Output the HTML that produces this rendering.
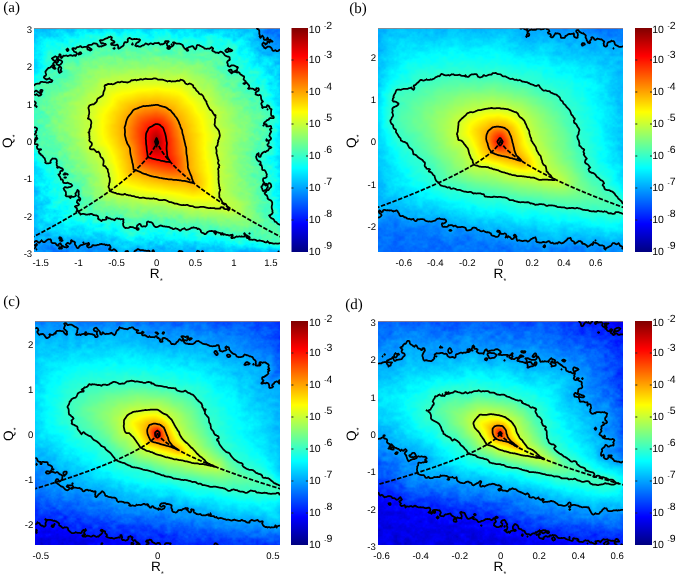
<!DOCTYPE html>
<html><head><meta charset="utf-8">
<style>
html,body{margin:0;padding:0;background:#fff;overflow:hidden;}
body{width:677px;height:574px;position:relative;overflow:hidden;font-family:"Liberation Sans",sans-serif;color:#000;}
#cv{position:absolute;left:0;top:0;}
.fb{position:absolute;overflow:hidden;}
.t{position:absolute;line-height:1;white-space:nowrap;font-family:"Liberation Sans",sans-serif;text-rendering:geometricPrecision;}
</style></head><body>
<svg class="fb" style="left:34px;top:28px" width="246" height="224" viewBox="34 28 246 224"><defs><filter id="bl0" x="-20%" y="-20%" width="140%" height="140%"><feGaussianBlur stdDeviation="5"/></filter></defs><rect x="34" y="28" width="246" height="224" fill="#0071ff"/><g filter="url(#bl0)"><rect x="14" y="8" width="286" height="264" fill="#0071ff"/><polygon points="24,21 255,21 258.6,28 260.5,35.8 266.4,39.7 270.3,45.6 276.1,47.5 290,49.5 290,254 150,254 112.1,252 108.2,246.4 96.5,245.5 88.7,246.4 80.9,244.5 73.1,245.5 65.3,244.5 57.4,241.6 49.6,239.6 41.8,243.5 34,248.4 24,250" fill="#00e6ff"/><polygon points="30,100 36,85.6 53.5,69 53.5,55.3 59.4,53.4 73,49.5 82.8,47.5 96.5,42.6 112,39.7 120,44.6 125.8,39.7 135.6,39.7 143.4,44.6 157,42.6 166.8,40.7 168.7,45.6 176.5,43.6 184.3,44.6 188.3,47.5 192.2,46.6 196.1,49.5 201.9,46.6 207.8,45.6 213.6,47.5 215.6,51.4 223.4,52.4 227.3,53.4 225.4,57.3 228.3,61.2 229.3,65.1 233.2,67.1 235.1,71 239,74.9 242.9,76.8 246.8,80.7 250.8,82.7 252.7,86.6 254.7,90.5 256.6,94.4 262.5,98.3 266.4,102.2 268.3,106.1 270.3,110 270.3,115.9 272.2,121.8 270.3,127.6 268.3,133.5 268.3,140 266.4,149.8 262.5,157.6 263.4,165.4 265.4,173.2 266.4,179.1 267.4,186.9 266.4,192.7 268.3,198.6 270.3,206.4 272.2,214.2 274.2,222 278.1,225.9 285,228 285,242 280,242.5 270.3,241.6 262.5,240.6 254.7,239.6 246.8,238.6 239,237.7 231.2,235.7 221.5,233.8 211.7,232.8 203.9,231.8 196.1,229.8 188.3,228.9 180.4,226.9 172.6,227.9 164.8,225 157,224 147.3,225 139.5,225.9 131.7,228.9 127.8,229.8 123.8,224 118,219.1 110.2,218.1 100.4,217.1 90.6,215.2 80.9,215.2 77,213.2 78.9,207.4 79.9,202.5 77,198.6 73.1,194.7 70.1,188.8 66.2,184.9 61.3,179.1 58.4,173.2 57.4,165.4 53.5,161.5 45.7,159.5 39.9,149.8 34,144.9 30,140" fill="#78ff87"/><polygon points="89.7,131.5 89.7,121.8 88.7,113.9 89.7,108.1 92.6,105.1 96.5,100.3 101.4,95.4 103.3,90.5 106.3,85.6 116,82.7 125.8,81.7 139.5,80.3 157,79.8 164.8,80.7 172.6,80.7 182.4,79.8 186.3,82.7 192.2,86.6 196.1,92.5 201.9,96.4 205.8,102.2 208.8,106.1 211.7,112 214.6,117.8 215.6,123.7 217.5,129.6 219.5,135.4 217.5,140.1 215.6,145.9 216.6,151.7 217.5,159.5 218.5,169.3 219.5,179.1 218.5,188.8 219.5,196.6 223.4,202.5 232.8,209.9 217.5,208.4 207.8,207.4 196.1,206.4 184.3,204.5 172.6,202.5 164.8,200.5 157,199.6 147.3,198.6 135.6,196.6 125.8,194.7 116,192.7 110.2,190.8 109.2,183 109.2,175.2 106.3,167.3 103.3,161.5 101.4,157.6 98.5,151.7 91.6,147.8 90.6,140" fill="#fff400"/><polygon points="124.8,127.6 127.8,117.8 133.6,110 143.4,106.1 157,104.8 164.8,107.1 170.7,111 176.5,117.8 180.4,125.7 182.4,133.5 184.3,140.1 186.3,149.8 187.3,161.5 188.3,169.3 193.7,183.1 184.3,181 176.5,180 166.8,179.1 157,177.1 151.2,176.1 143.4,173.2 133.6,169.3 131.7,159.5 129.7,147.8 125.8,140" fill="#ff6200"/><polygon points="155.9,124.3 159.8,124.8 163.2,127.7 165.5,134.4 166.6,142.4 166.6,150.3 167.2,156 171.3,163.0 161,160.5 155.3,159.4 148,157.1 146.8,150.3 146.3,144.6 145.7,139 146.3,133.3 148.5,127.7" fill="#d00000"/><polygon points="156.7,137.8 158.1,142.4 156.4,146.9 155.1,141.2" fill="#800000"/><circle cx="156.6" cy="142" r="2" fill="#800000"/></g><polygon points="156.7,137.8 158.1,142.4 156.4,146.9 155.1,141.2" fill="none" stroke="#000" stroke-width="1.6"/><polygon points="155.9,124.3 159.8,124.8 163.2,127.7 165.5,134.4 166.6,142.4 166.6,150.3 167.2,156 171.3,163.0 161,160.5 155.3,159.4 148,157.1 146.8,150.3 146.3,144.6 145.7,139 146.3,133.3 148.5,127.7" fill="none" stroke="#000" stroke-width="1.6"/><polygon points="124.8,127.6 127.8,117.8 133.6,110 143.4,106.1 157,104.8 164.8,107.1 170.7,111 176.5,117.8 180.4,125.7 182.4,133.5 184.3,140.1 186.3,149.8 187.3,161.5 188.3,169.3 193.7,183.1 184.3,181 176.5,180 166.8,179.1 157,177.1 151.2,176.1 143.4,173.2 133.6,169.3 131.7,159.5 129.7,147.8 125.8,140" fill="none" stroke="#000" stroke-width="1.6"/><polygon points="89.7,131.5 89.7,121.8 88.7,113.9 89.7,108.1 92.6,105.1 96.5,100.3 101.4,95.4 103.3,90.5 106.3,85.6 116,82.7 125.8,81.7 139.5,80.3 157,79.8 164.8,80.7 172.6,80.7 182.4,79.8 186.3,82.7 192.2,86.6 196.1,92.5 201.9,96.4 205.8,102.2 208.8,106.1 211.7,112 214.6,117.8 215.6,123.7 217.5,129.6 219.5,135.4 217.5,140.1 215.6,145.9 216.6,151.7 217.5,159.5 218.5,169.3 219.5,179.1 218.5,188.8 219.5,196.6 223.4,202.5 232.8,209.9 217.5,208.4 207.8,207.4 196.1,206.4 184.3,204.5 172.6,202.5 164.8,200.5 157,199.6 147.3,198.6 135.6,196.6 125.8,194.7 116,192.7 110.2,190.8 109.2,183 109.2,175.2 106.3,167.3 103.3,161.5 101.4,157.6 98.5,151.7 91.6,147.8 90.6,140" fill="none" stroke="#000" stroke-width="1.6"/><polygon points="30,100 36,85.6 53.5,69 53.5,55.3 59.4,53.4 73,49.5 82.8,47.5 96.5,42.6 112,39.7 120,44.6 125.8,39.7 135.6,39.7 143.4,44.6 157,42.6 166.8,40.7 168.7,45.6 176.5,43.6 184.3,44.6 188.3,47.5 192.2,46.6 196.1,49.5 201.9,46.6 207.8,45.6 213.6,47.5 215.6,51.4 223.4,52.4 227.3,53.4 225.4,57.3 228.3,61.2 229.3,65.1 233.2,67.1 235.1,71 239,74.9 242.9,76.8 246.8,80.7 250.8,82.7 252.7,86.6 254.7,90.5 256.6,94.4 262.5,98.3 266.4,102.2 268.3,106.1 270.3,110 270.3,115.9 272.2,121.8 270.3,127.6 268.3,133.5 268.3,140 266.4,149.8 262.5,157.6 263.4,165.4 265.4,173.2 266.4,179.1 267.4,186.9 266.4,192.7 268.3,198.6 270.3,206.4 272.2,214.2 274.2,222 278.1,225.9 285,228 285,242 280,242.5 270.3,241.6 262.5,240.6 254.7,239.6 246.8,238.6 239,237.7 231.2,235.7 221.5,233.8 211.7,232.8 203.9,231.8 196.1,229.8 188.3,228.9 180.4,226.9 172.6,227.9 164.8,225 157,224 147.3,225 139.5,225.9 131.7,228.9 127.8,229.8 123.8,224 118,219.1 110.2,218.1 100.4,217.1 90.6,215.2 80.9,215.2 77,213.2 78.9,207.4 79.9,202.5 77,198.6 73.1,194.7 70.1,188.8 66.2,184.9 61.3,179.1 58.4,173.2 57.4,165.4 53.5,161.5 45.7,159.5 39.9,149.8 34,144.9 30,140" fill="none" stroke="#000" stroke-width="1.6"/><polygon points="24,21 255,21 258.6,28 260.5,35.8 266.4,39.7 270.3,45.6 276.1,47.5 290,49.5 290,254 150,254 112.1,252 108.2,246.4 96.5,245.5 88.7,246.4 80.9,244.5 73.1,245.5 65.3,244.5 57.4,241.6 49.6,239.6 41.8,243.5 34,248.4 24,250" fill="none" stroke="#000" stroke-width="1.6"/><polyline points="157.0,140.0 156.2,143.3 155.5,145.2 154.7,146.8 153.9,148.3 153.2,149.6 152.4,150.8 151.6,152.0 150.8,153.1 150.1,154.2 149.3,155.2 148.5,156.2 144.7,160.8 140.9,164.9 137.0,168.7 133.2,172.3 129.3,175.7 125.5,178.9 121.6,182.0 117.8,185.0 113.9,187.9 110.1,190.7 106.2,193.5 102.4,196.1 98.6,198.8 94.7,201.3 90.9,203.8 87.0,206.3 83.2,208.7 79.3,211.0 75.5,213.3 71.6,215.6 67.8,217.9 64.0,220.1 60.1,222.3 56.3,224.5 52.4,226.6 48.6,228.7 44.7,230.8 40.9,232.9 37.0,234.9 33.2,236.9 29.3,238.9 25.5,240.9" fill="none" stroke="#000" stroke-width="1.6" stroke-dasharray="4.4 1.7"/><polyline points="157.0,140.0 157.8,143.3 158.5,145.2 159.3,146.8 160.1,148.3 160.8,149.6 161.6,150.8 162.4,152.0 163.2,153.1 163.9,154.2 164.7,155.2 165.5,156.2 169.3,160.8 173.1,164.9 177.0,168.7 180.8,172.3 184.7,175.7 188.5,178.9 192.4,182.0 196.2,185.0 200.1,187.9 203.9,190.7 207.8,193.5 211.6,196.1 215.4,198.8 219.3,201.3 223.1,203.8 227.0,206.3 230.8,208.7 234.7,211.0 238.5,213.3 242.4,215.6 246.2,217.9 250.0,220.1 253.9,222.3 257.7,224.5 261.6,226.6 265.4,228.7 269.3,230.8 273.1,232.9 277.0,234.9 280.8,236.9 284.7,238.9 288.5,240.9" fill="none" stroke="#000" stroke-width="1.6" stroke-dasharray="4.4 1.7"/></svg>
<svg class="fb" style="left:378px;top:28px" width="245" height="224" viewBox="378 28 245 224"><defs><filter id="bl1" x="-20%" y="-20%" width="140%" height="140%"><feGaussianBlur stdDeviation="5"/></filter></defs><rect x="378" y="28" width="245" height="224" fill="#0071ff"/><g filter="url(#bl1)"><rect x="358" y="8" width="285" height="264" fill="#0071ff"/><polygon points="370,20 522,20 525.4,28 527.3,31.9 533.2,30.9 539.1,30 546.9,30 552.7,31.9 558.6,33.9 564.5,36.8 570.3,35.8 578.1,31.9 582,33.9 585.9,38.7 593.8,39.7 601.6,39.7 605.5,42.6 611.3,41.7 617.2,43.6 623,43.6 635,44 635,245.5 623,245.5 613.3,246.4 605.5,247.4 597.7,243.5 589.8,245.5 582,243.5 574.2,241.6 566.4,240.6 558.6,243.5 550.8,242.5 544.9,245.5 539.1,243.5 535.2,237.7 527.3,241.6 519.5,239.6 511.7,238.6 505.9,235.7 500,233.8 497.1,236.7 491.3,233.8 485.4,230.8 479.6,231.8 473.7,229.8 467.8,228.9 462,225.9 456.1,227.9 452.2,229.8 450.3,225.9 444.4,224 438.5,221.1 432.7,219.1 426.8,221.1 421,220.1 413.2,219.1 407.3,218.1 401.4,215.2 395.6,212.3 389.7,214.2 383.9,213.2 378,215.2 370,215" fill="#00e6ff"/><polygon points="401.4,140.1 400.5,137.4 397.5,133.5 394.6,129.6 391.7,123.7 389.7,117.8 390.7,112 393.6,108.1 396.6,105.1 393.6,102.2 392.6,98.3 394.6,94.4 397.5,90.5 403.4,89.5 409.3,88.5 414.1,86.6 417.1,82.7 422.9,80.3 428.8,78.8 436.6,76.8 444.4,75.9 452.2,74.9 460,74.5 467.8,75.9 475.7,74.5 479.6,76.8 487.4,75.9 495.2,74.5 500,76 505.9,78.4 511.7,79.8 519.5,80.7 527.3,81.1 532.2,83.7 536.1,86.6 541,88.5 546.9,90.5 552.7,93.4 557.6,95.4 559.6,99.3 562.5,103.2 566.4,106.1 569.3,109.1 570.3,113.9 572.3,117.8 574.2,121.8 577.1,125.7 578.1,129.6 579.1,134.4 579.1,140 580.1,143.9 584,149.8 584,155.6 585.9,161.5 587.9,167.3 591.8,173.2 595.7,177.1 601.6,181 605.5,183 603.5,185.9 607.4,188.8 613.3,192.7 617.2,196.6 621.1,200.5 623,202.5 628,208 623,213.8 617.2,213.8 607.4,212.3 597.7,211.3 587.9,210.3 578.1,209.3 568.4,208.4 558.6,206.4 548.8,205.4 539.1,203.5 529.3,202.5 519.5,201.5 509.8,199.6 500,197.6 491.3,196.6 483.5,195.7 475.7,193.7 467.8,191.8 460,189.8 452.2,187.9 446.4,186.9 440.5,184.9 438.5,182 435.6,179.1 433.7,176.1 430.7,173.2 429.8,169.3 426.8,166.4 424.9,163.4 421,159.5 417.1,155.6 413.2,151.7 409.3,147.8 407.3,143.9 402.4,140" fill="#78ff87"/><polygon points="458.1,140.1 457.1,133.5 458.1,127.6 459.1,121.8 462,117.8 467.8,113.9 475.7,111 483.5,109.1 491.3,108.1 500,108.5 507.8,110 515.6,113 521.5,117.8 525.4,123.7 528.3,129.6 530.3,135.4 531.3,140.1 535.2,147.8 539.1,155.6 543,163.4 546.9,171.3 552.7,177.1 559.2,181.3 548.8,180 539.1,179.1 529.3,177.5 519.5,176.1 509.8,174.2 500,171.3 495.2,169.3 487.4,167.3 479.6,166.4 473.7,164.4 472.7,159.5 469.8,153.7 465.9,145.9 461,140" fill="#fff400"/><polygon points="497.2,126.8 504,127.6 508.5,131 510.8,136 512.5,142.8 514.2,149.6 516.4,155.3 522.2,161.4 513,158.7 504,156.4 497.2,154.7 491.5,152.5 488.7,147.4 487,141.7 486.4,136 488.1,131 492.6,127.6" fill="#ff6200"/><polygon points="500,137.2 502.8,141.7 500,146.2 497.2,141.7" fill="#d00000"/><circle cx="500" cy="141.7" r="2" fill="#ed0000"/></g><polygon points="500,137.2 502.8,141.7 500,146.2 497.2,141.7" fill="none" stroke="#000" stroke-width="1.6"/><polygon points="497.2,126.8 504,127.6 508.5,131 510.8,136 512.5,142.8 514.2,149.6 516.4,155.3 522.2,161.4 513,158.7 504,156.4 497.2,154.7 491.5,152.5 488.7,147.4 487,141.7 486.4,136 488.1,131 492.6,127.6" fill="none" stroke="#000" stroke-width="1.6"/><polygon points="458.1,140.1 457.1,133.5 458.1,127.6 459.1,121.8 462,117.8 467.8,113.9 475.7,111 483.5,109.1 491.3,108.1 500,108.5 507.8,110 515.6,113 521.5,117.8 525.4,123.7 528.3,129.6 530.3,135.4 531.3,140.1 535.2,147.8 539.1,155.6 543,163.4 546.9,171.3 552.7,177.1 559.2,181.3 548.8,180 539.1,179.1 529.3,177.5 519.5,176.1 509.8,174.2 500,171.3 495.2,169.3 487.4,167.3 479.6,166.4 473.7,164.4 472.7,159.5 469.8,153.7 465.9,145.9 461,140" fill="none" stroke="#000" stroke-width="1.6"/><polygon points="401.4,140.1 400.5,137.4 397.5,133.5 394.6,129.6 391.7,123.7 389.7,117.8 390.7,112 393.6,108.1 396.6,105.1 393.6,102.2 392.6,98.3 394.6,94.4 397.5,90.5 403.4,89.5 409.3,88.5 414.1,86.6 417.1,82.7 422.9,80.3 428.8,78.8 436.6,76.8 444.4,75.9 452.2,74.9 460,74.5 467.8,75.9 475.7,74.5 479.6,76.8 487.4,75.9 495.2,74.5 500,76 505.9,78.4 511.7,79.8 519.5,80.7 527.3,81.1 532.2,83.7 536.1,86.6 541,88.5 546.9,90.5 552.7,93.4 557.6,95.4 559.6,99.3 562.5,103.2 566.4,106.1 569.3,109.1 570.3,113.9 572.3,117.8 574.2,121.8 577.1,125.7 578.1,129.6 579.1,134.4 579.1,140 580.1,143.9 584,149.8 584,155.6 585.9,161.5 587.9,167.3 591.8,173.2 595.7,177.1 601.6,181 605.5,183 603.5,185.9 607.4,188.8 613.3,192.7 617.2,196.6 621.1,200.5 623,202.5 628,208 623,213.8 617.2,213.8 607.4,212.3 597.7,211.3 587.9,210.3 578.1,209.3 568.4,208.4 558.6,206.4 548.8,205.4 539.1,203.5 529.3,202.5 519.5,201.5 509.8,199.6 500,197.6 491.3,196.6 483.5,195.7 475.7,193.7 467.8,191.8 460,189.8 452.2,187.9 446.4,186.9 440.5,184.9 438.5,182 435.6,179.1 433.7,176.1 430.7,173.2 429.8,169.3 426.8,166.4 424.9,163.4 421,159.5 417.1,155.6 413.2,151.7 409.3,147.8 407.3,143.9 402.4,140" fill="none" stroke="#000" stroke-width="1.6"/><polygon points="370,20 522,20 525.4,28 527.3,31.9 533.2,30.9 539.1,30 546.9,30 552.7,31.9 558.6,33.9 564.5,36.8 570.3,35.8 578.1,31.9 582,33.9 585.9,38.7 593.8,39.7 601.6,39.7 605.5,42.6 611.3,41.7 617.2,43.6 623,43.6 635,44 635,245.5 623,245.5 613.3,246.4 605.5,247.4 597.7,243.5 589.8,245.5 582,243.5 574.2,241.6 566.4,240.6 558.6,243.5 550.8,242.5 544.9,245.5 539.1,243.5 535.2,237.7 527.3,241.6 519.5,239.6 511.7,238.6 505.9,235.7 500,233.8 497.1,236.7 491.3,233.8 485.4,230.8 479.6,231.8 473.7,229.8 467.8,228.9 462,225.9 456.1,227.9 452.2,229.8 450.3,225.9 444.4,224 438.5,221.1 432.7,219.1 426.8,221.1 421,220.1 413.2,219.1 407.3,218.1 401.4,215.2 395.6,212.3 389.7,214.2 383.9,213.2 378,215.2 370,215" fill="none" stroke="#000" stroke-width="1.6"/><polyline points="500.5,140.2 498.9,144.0 497.3,146.1 495.7,148.0 494.1,149.6 492.5,151.1 490.9,152.5 489.3,153.8 487.7,155.1 486.1,156.3 484.6,157.5 483.0,158.6 475.0,163.8 467.0,168.5 459.0,172.8 451.1,176.9 443.1,180.7 435.1,184.4 427.1,187.9 419.2,191.3 411.2,194.6 403.2,197.7 395.2,200.9 387.3,203.9 379.3,206.8 371.3,209.7" fill="none" stroke="#000" stroke-width="1.6" stroke-dasharray="4.4 1.7"/><polyline points="500.5,140.2 502.1,144.0 503.7,146.1 505.3,148.0 506.9,149.6 508.5,151.1 510.1,152.5 511.7,153.8 513.3,155.1 514.9,156.3 516.5,157.5 518.0,158.6 526.0,163.8 534.0,168.5 542.0,172.8 549.9,176.9 557.9,180.7 565.9,184.4 573.9,187.9 581.8,191.3 589.8,194.6 597.8,197.7 605.8,200.9 613.7,203.9 621.7,206.8 629.7,209.7" fill="none" stroke="#000" stroke-width="1.6" stroke-dasharray="4.4 1.7"/></svg>
<svg class="fb" style="left:35px;top:321px" width="245" height="224" viewBox="35 321 245 224"><defs><filter id="bl2" x="-20%" y="-20%" width="140%" height="140%"><feGaussianBlur stdDeviation="5"/></filter></defs><rect x="35" y="321" width="245" height="224" fill="#0000de"/><g filter="url(#bl2)"><rect x="15" y="301" width="285" height="264" fill="#0000de"/><polygon points="0,300 290,300 290,552 175,547 158,542.4 144.4,542.4 136.6,540.4 128.8,539.4 120.9,538.5 113.1,538.5 105.3,534.6 97.5,536.5 89.7,534.6 81.9,532.6 74.1,530.7 66.3,528.7 58.4,526.8 50.6,523.8 42.8,524.8 35,528.7 0,529" fill="#0054ff"/><polygon points="15,331 35,330.8 40.9,329.8 46.7,331.7 54.5,329.8 60.4,331.7 66.3,326.9 72.1,324.9 76,328.8 81.9,332.7 87.7,330.8 93.6,328.8 99.5,330.8 105.3,331.7 111.2,330.8 117,331.7 122.9,329.8 128.8,328.8 134.6,331.7 140.5,332.7 146.3,336.6 152.2,338.6 158,337.6 164.8,336.6 170.7,340.5 176.5,340.5 182.4,339.6 188.3,342.5 194.1,343.5 200,341.5 205.8,343.5 211.7,345.4 217.5,347.4 223.4,349.3 229.3,352.3 235.1,355.2 241,358.1 246.8,361 252.7,362 258.6,363 266.4,363 270.3,364 268.3,367.9 265.4,371.8 266.4,377.6 268.3,383.5 272.2,385.5 276.1,381.5 280,379.6 287,380 287,529 280,528.7 270.3,525.8 262.5,523.8 254.7,522.8 246.8,521.9 239,520.9 231.2,519.9 223.4,519 215.6,517 207.8,514.1 200,513.1 192.2,513.1 184.3,511.1 176.5,509.2 170.7,505.3 164.8,506.2 157,507.2 152.2,505.3 146.3,504.3 140.5,505.3 134.6,504.3 128.8,502.3 120.9,500.4 113.1,498.4 107.3,496.5 101.4,494.5 93.6,492.6 85.8,490.6 79.9,487.7 72.1,485.7 64.3,484.8 56.5,483.8 60.4,479.9 62.3,475 56.5,474 50.6,471.1 46.7,466.2 40.9,463.3 35,461.3 15,461" fill="#00e6ff"/><polygon points="81.9,433.1 80.9,430.4 78,426.5 74.1,422.6 71.1,418.7 69.2,412.8 68.2,406.9 70.2,401.1 74.1,397.2 78,393.3 81.9,389.4 87.7,387.4 93.6,385.5 101.4,384.5 109.2,383.9 117,383.1 122.9,383.5 130.7,382.5 136.6,381.5 144.4,383.1 150.2,383.5 158,385.5 162.9,387 168.7,387 176.5,389.4 184.3,392.3 190.2,395.2 196.1,398.1 198,401.1 201.9,405 203.9,409.9 205.8,412.8 207.8,416.7 209.7,422.6 211.7,426.5 212.7,433.1 215.6,438.9 221.5,446.7 227.3,452.5 233.2,458.4 239,463.3 246.8,468.2 254.7,472.1 262.5,476 270.3,479.9 276.1,483.8 280,485.7 285,490 280,494.5 274.2,495.1 264.4,492.6 254.7,492.6 244.9,491.6 235.1,490.6 225.4,488.7 215.6,486.7 205.8,484.8 196.1,482.8 186.3,480.9 176.5,478.9 166.8,476.9 157,473 152.2,472.1 144.4,470.1 136.6,468.2 128.8,465.2 120.9,462.3 115.1,459.4 113.1,455.5 107.3,450.6 101.4,444.7 95.5,440.8 89.7,436.9 83.8,433" fill="#78ff87"/><polygon points="125.8,433.1 123.9,426.5 123.9,420.6 126.8,414.8 132.7,411.8 140.5,410.5 148.3,409.9 158,409.9 162.9,412.8 168.7,416.7 173.6,422.6 176.5,428.4 178.5,433.1 182.4,438.9 188.3,444.7 194.1,450.6 200,456.4 205.8,461.3 215.2,466.7 205.8,465.2 196.1,463.3 186.3,461.3 176.5,459.4 166.8,457.4 157,454.5 152.2,452.5 146.3,450.6 140.5,447.6 138.5,444.7 134.6,438.9 128.8,433" fill="#fff400"/><polygon points="154,423.7 159.7,424.7 163.6,427.1 165.5,431.8 167.4,436.6 169.3,441.4 172.2,445.3 178.1,449.9 170.3,446.7 163.6,444.8 156.8,442.9 151.1,441.4 149.2,437.6 147.7,433.8 147.3,429 149.2,425.1" fill="#ff6200"/><polygon points="157.3,430.3 159.8,432.5 159.8,436 157.3,438 155,436 154.8,432.5" fill="#d00000"/><circle cx="157.3" cy="434.2" r="2" fill="#ed0000"/></g><polygon points="157.3,430.3 159.8,432.5 159.8,436 157.3,438 155,436 154.8,432.5" fill="none" stroke="#000" stroke-width="1.6"/><polygon points="154,423.7 159.7,424.7 163.6,427.1 165.5,431.8 167.4,436.6 169.3,441.4 172.2,445.3 178.1,449.9 170.3,446.7 163.6,444.8 156.8,442.9 151.1,441.4 149.2,437.6 147.7,433.8 147.3,429 149.2,425.1" fill="none" stroke="#000" stroke-width="1.6"/><polygon points="125.8,433.1 123.9,426.5 123.9,420.6 126.8,414.8 132.7,411.8 140.5,410.5 148.3,409.9 158,409.9 162.9,412.8 168.7,416.7 173.6,422.6 176.5,428.4 178.5,433.1 182.4,438.9 188.3,444.7 194.1,450.6 200,456.4 205.8,461.3 215.2,466.7 205.8,465.2 196.1,463.3 186.3,461.3 176.5,459.4 166.8,457.4 157,454.5 152.2,452.5 146.3,450.6 140.5,447.6 138.5,444.7 134.6,438.9 128.8,433" fill="none" stroke="#000" stroke-width="1.6"/><polygon points="81.9,433.1 80.9,430.4 78,426.5 74.1,422.6 71.1,418.7 69.2,412.8 68.2,406.9 70.2,401.1 74.1,397.2 78,393.3 81.9,389.4 87.7,387.4 93.6,385.5 101.4,384.5 109.2,383.9 117,383.1 122.9,383.5 130.7,382.5 136.6,381.5 144.4,383.1 150.2,383.5 158,385.5 162.9,387 168.7,387 176.5,389.4 184.3,392.3 190.2,395.2 196.1,398.1 198,401.1 201.9,405 203.9,409.9 205.8,412.8 207.8,416.7 209.7,422.6 211.7,426.5 212.7,433.1 215.6,438.9 221.5,446.7 227.3,452.5 233.2,458.4 239,463.3 246.8,468.2 254.7,472.1 262.5,476 270.3,479.9 276.1,483.8 280,485.7 285,490 280,494.5 274.2,495.1 264.4,492.6 254.7,492.6 244.9,491.6 235.1,490.6 225.4,488.7 215.6,486.7 205.8,484.8 196.1,482.8 186.3,480.9 176.5,478.9 166.8,476.9 157,473 152.2,472.1 144.4,470.1 136.6,468.2 128.8,465.2 120.9,462.3 115.1,459.4 113.1,455.5 107.3,450.6 101.4,444.7 95.5,440.8 89.7,436.9 83.8,433" fill="none" stroke="#000" stroke-width="1.6"/><polygon points="15,331 35,330.8 40.9,329.8 46.7,331.7 54.5,329.8 60.4,331.7 66.3,326.9 72.1,324.9 76,328.8 81.9,332.7 87.7,330.8 93.6,328.8 99.5,330.8 105.3,331.7 111.2,330.8 117,331.7 122.9,329.8 128.8,328.8 134.6,331.7 140.5,332.7 146.3,336.6 152.2,338.6 158,337.6 164.8,336.6 170.7,340.5 176.5,340.5 182.4,339.6 188.3,342.5 194.1,343.5 200,341.5 205.8,343.5 211.7,345.4 217.5,347.4 223.4,349.3 229.3,352.3 235.1,355.2 241,358.1 246.8,361 252.7,362 258.6,363 266.4,363 270.3,364 268.3,367.9 265.4,371.8 266.4,377.6 268.3,383.5 272.2,385.5 276.1,381.5 280,379.6 287,380 287,529 280,528.7 270.3,525.8 262.5,523.8 254.7,522.8 246.8,521.9 239,520.9 231.2,519.9 223.4,519 215.6,517 207.8,514.1 200,513.1 192.2,513.1 184.3,511.1 176.5,509.2 170.7,505.3 164.8,506.2 157,507.2 152.2,505.3 146.3,504.3 140.5,505.3 134.6,504.3 128.8,502.3 120.9,500.4 113.1,498.4 107.3,496.5 101.4,494.5 93.6,492.6 85.8,490.6 79.9,487.7 72.1,485.7 64.3,484.8 56.5,483.8 60.4,479.9 62.3,475 56.5,474 50.6,471.1 46.7,466.2 40.9,463.3 35,461.3 15,461" fill="none" stroke="#000" stroke-width="1.6"/><polygon points="0,300 290,300 290,552 175,547 158,542.4 144.4,542.4 136.6,540.4 128.8,539.4 120.9,538.5 113.1,538.5 105.3,534.6 97.5,536.5 89.7,534.6 81.9,532.6 74.1,530.7 66.3,528.7 58.4,526.8 50.6,523.8 42.8,524.8 35,528.7 0,529" fill="none" stroke="#000" stroke-width="1.6"/><polyline points="157.6,433.0 155.3,436.9 153.0,439.3 150.7,441.2 148.4,442.9 146.0,444.5 143.7,446.0 141.4,447.4 139.1,448.8 136.8,450.1 134.5,451.3 132.2,452.5 120.6,458.1 109.1,463.0 97.5,467.6 86.0,472.0 74.4,476.0 62.9,479.9 51.3,483.7 39.8,487.3 28.2,490.8" fill="none" stroke="#000" stroke-width="1.6" stroke-dasharray="4.4 1.7"/><polyline points="157.6,433.0 159.9,436.9 162.2,439.3 164.5,441.2 166.8,442.9 169.2,444.5 171.5,446.0 173.8,447.4 176.1,448.8 178.4,450.1 180.7,451.3 183.0,452.5 194.6,458.1 206.1,463.0 217.7,467.6 229.2,472.0 240.8,476.0 252.3,479.9 263.9,483.7 275.4,487.3 287.0,490.8" fill="none" stroke="#000" stroke-width="1.6" stroke-dasharray="4.4 1.7"/></svg>
<svg class="fb" style="left:378px;top:321px" width="245" height="224" viewBox="378 321 245 224"><defs><filter id="bl3" x="-20%" y="-20%" width="140%" height="140%"><feGaussianBlur stdDeviation="5"/></filter></defs><rect x="378" y="321" width="245" height="224" fill="#0000de"/><g filter="url(#bl3)"><rect x="358" y="301" width="285" height="264" fill="#0000de"/><polygon points="330,292 583,292 585,321 600,325 615,330 623,332 635,333 635,543 623,542.4 617.2,542.4 607.4,541.4 597.7,540.4 587.9,541.4 578.1,540.4 568.4,539.4 558.6,538.5 548.8,536.5 539.1,534.6 529.3,532.6 519.5,530.7 509.8,528.7 500,524.5 495.2,521.9 487.4,520.9 479.6,519 471.7,517 463.9,515 456.1,517 448.3,515 440.5,513.1 432.7,511.1 424.9,510.1 417.1,508.2 409.3,509.2 403.4,507.2 397.5,503.3 393.6,499.4 385.8,497.5 378,495.5 330,495" fill="#0054ff"/><polygon points="348,361 378,361 383.9,360.1 389.7,361 395.6,359.1 399.5,357.1 402.4,350.3 403.4,345.4 409.3,345.4 415.1,347.4 419,350.3 422.9,356.2 428.8,357.1 434.6,356.2 440.5,354.2 446.4,355.2 452.2,356.2 458.1,355.2 463.9,353.2 469.8,351.3 473.7,347.4 477.6,348.3 479.6,354.2 484.4,356.2 489.3,358.1 495.2,355.2 500,355.2 507.8,357.1 515.6,359.1 523.4,360.1 529.3,364 531.3,360.1 537.1,359.1 541,362 548.8,363 556.6,364.9 562.5,365.9 568.4,367.9 574.2,370.8 578.1,373.7 578.1,379.6 579.1,385.5 577.1,393.3 580.1,398.1 585.9,401.1 589.8,405 591.8,409.9 597.7,410.8 603.5,411.8 606.4,416.7 603.5,422.6 599.6,426.5 597.7,433.1 599.6,435.9 605.5,436.9 609.4,438.9 613.3,440.8 611.3,444.7 603.5,444.7 601.6,448.6 602.5,454.5 606.4,457.4 611.3,458.4 617.2,460.3 623,461.3 630,462 630,510 623,510.1 613.3,511.1 605.5,510.1 597.7,511.1 591.8,512.1 587.9,510.1 578.1,507.2 568.4,505.3 558.6,503.3 548.8,501.4 539.1,499.4 531.3,497.5 523.4,493.5 515.6,490.6 507.8,487.7 500,485.7 491.3,484.8 483.5,484.2 475.7,483.8 469.8,482.8 463.9,483.8 460,480.9 452.2,478.9 444.4,477.9 436.6,476.9 428.8,476 421,475 414.1,473 417.1,470.1 422.9,465.2 424.9,460.3 422.9,458.4 417.1,457.4 411.2,455.5 405.3,452.5 399.5,448.6 393.6,444.7 389.7,440.8 383.9,437.9 378,436.9 348,437" fill="#00e6ff"/><polygon points="444.4,433.1 440.5,427.4 434.6,422.6 429.8,418.7 428.8,412.8 430.7,406.9 432.7,402.1 436.6,398.1 442.5,395.2 448.3,393.3 456.1,392.3 462,393.3 467.8,394.2 473.7,390.3 479.6,390.3 487.4,392.3 495.2,393.3 500,395.2 509.8,397.2 517.6,399.1 523.4,403 529.3,405 534.2,410.8 538.1,416.7 541,422.6 543.9,428.4 544.9,433.1 545.9,438.9 550.8,444.7 556.6,450.6 562.5,455.5 570.3,460.3 578.1,465.2 585.9,470.1 593.8,474 601.6,477 609.4,479.9 619.1,483.8 607.4,483.8 597.7,484.2 587.9,482.8 578.1,480.9 568.4,478.9 558.6,477 548.8,475 539.1,473 529.3,471.1 519.5,469.1 509.8,467.2 500,464.3 495.2,463.3 489.3,461.3 481.5,458.4 473.7,455.5 467.8,452.5 462,446.7 456.1,440.8 450.3,436.9" fill="#78ff87"/><polygon points="474.8,419.2 479.6,414.9 489.2,414.4 498.8,414.9 505.5,417.3 511.2,421.1 515.1,426.8 517,432.6 519.9,438.4 523.7,443.1 527.5,447.9 533.2,450.6 539.1,455.5 548.4,460.8 539.1,458.4 529.3,456.4 519.5,454.5 509.8,452.5 500,449.6 494,447 486.8,444.6 485.3,442.2 482.5,437.4 478.6,432.6 474.8,427.8 473.4,423" fill="#fff400"/><polygon points="497.8,425.4 502.6,426.4 505.5,429.7 506.4,433.6 507.9,437.4 510.3,440.7 517.5,446.5 508.4,442.2 502.6,440.7 496.8,439.3 494,436.4 492.5,432.6 492.5,428.8 494.4,426.4" fill="#ff6200"/><polygon points="500.2,431.4 502,433.6 500.2,435.8 498.4,433.6" fill="#d00000"/><circle cx="500.2" cy="433.6" r="2" fill="#f40000"/></g><polygon points="500.2,431.4 502,433.6 500.2,435.8 498.4,433.6" fill="none" stroke="#000" stroke-width="1.6"/><polygon points="497.8,425.4 502.6,426.4 505.5,429.7 506.4,433.6 507.9,437.4 510.3,440.7 517.5,446.5 508.4,442.2 502.6,440.7 496.8,439.3 494,436.4 492.5,432.6 492.5,428.8 494.4,426.4" fill="none" stroke="#000" stroke-width="1.6"/><polygon points="474.8,419.2 479.6,414.9 489.2,414.4 498.8,414.9 505.5,417.3 511.2,421.1 515.1,426.8 517,432.6 519.9,438.4 523.7,443.1 527.5,447.9 533.2,450.6 539.1,455.5 548.4,460.8 539.1,458.4 529.3,456.4 519.5,454.5 509.8,452.5 500,449.6 494,447 486.8,444.6 485.3,442.2 482.5,437.4 478.6,432.6 474.8,427.8 473.4,423" fill="none" stroke="#000" stroke-width="1.6"/><polygon points="444.4,433.1 440.5,427.4 434.6,422.6 429.8,418.7 428.8,412.8 430.7,406.9 432.7,402.1 436.6,398.1 442.5,395.2 448.3,393.3 456.1,392.3 462,393.3 467.8,394.2 473.7,390.3 479.6,390.3 487.4,392.3 495.2,393.3 500,395.2 509.8,397.2 517.6,399.1 523.4,403 529.3,405 534.2,410.8 538.1,416.7 541,422.6 543.9,428.4 544.9,433.1 545.9,438.9 550.8,444.7 556.6,450.6 562.5,455.5 570.3,460.3 578.1,465.2 585.9,470.1 593.8,474 601.6,477 609.4,479.9 619.1,483.8 607.4,483.8 597.7,484.2 587.9,482.8 578.1,480.9 568.4,478.9 558.6,477 548.8,475 539.1,473 529.3,471.1 519.5,469.1 509.8,467.2 500,464.3 495.2,463.3 489.3,461.3 481.5,458.4 473.7,455.5 467.8,452.5 462,446.7 456.1,440.8 450.3,436.9" fill="none" stroke="#000" stroke-width="1.6"/><polygon points="348,361 378,361 383.9,360.1 389.7,361 395.6,359.1 399.5,357.1 402.4,350.3 403.4,345.4 409.3,345.4 415.1,347.4 419,350.3 422.9,356.2 428.8,357.1 434.6,356.2 440.5,354.2 446.4,355.2 452.2,356.2 458.1,355.2 463.9,353.2 469.8,351.3 473.7,347.4 477.6,348.3 479.6,354.2 484.4,356.2 489.3,358.1 495.2,355.2 500,355.2 507.8,357.1 515.6,359.1 523.4,360.1 529.3,364 531.3,360.1 537.1,359.1 541,362 548.8,363 556.6,364.9 562.5,365.9 568.4,367.9 574.2,370.8 578.1,373.7 578.1,379.6 579.1,385.5 577.1,393.3 580.1,398.1 585.9,401.1 589.8,405 591.8,409.9 597.7,410.8 603.5,411.8 606.4,416.7 603.5,422.6 599.6,426.5 597.7,433.1 599.6,435.9 605.5,436.9 609.4,438.9 613.3,440.8 611.3,444.7 603.5,444.7 601.6,448.6 602.5,454.5 606.4,457.4 611.3,458.4 617.2,460.3 623,461.3 630,462 630,510 623,510.1 613.3,511.1 605.5,510.1 597.7,511.1 591.8,512.1 587.9,510.1 578.1,507.2 568.4,505.3 558.6,503.3 548.8,501.4 539.1,499.4 531.3,497.5 523.4,493.5 515.6,490.6 507.8,487.7 500,485.7 491.3,484.8 483.5,484.2 475.7,483.8 469.8,482.8 463.9,483.8 460,480.9 452.2,478.9 444.4,477.9 436.6,476.9 428.8,476 421,475 414.1,473 417.1,470.1 422.9,465.2 424.9,460.3 422.9,458.4 417.1,457.4 411.2,455.5 405.3,452.5 399.5,448.6 393.6,444.7 389.7,440.8 383.9,437.9 378,436.9 348,437" fill="none" stroke="#000" stroke-width="1.6"/><polygon points="330,292 583,292 585,321 600,325 615,330 623,332 635,333 635,543 623,542.4 617.2,542.4 607.4,541.4 597.7,540.4 587.9,541.4 578.1,540.4 568.4,539.4 558.6,538.5 548.8,536.5 539.1,534.6 529.3,532.6 519.5,530.7 509.8,528.7 500,524.5 495.2,521.9 487.4,520.9 479.6,519 471.7,517 463.9,515 456.1,517 448.3,515 440.5,513.1 432.7,511.1 424.9,510.1 417.1,508.2 409.3,509.2 403.4,507.2 397.5,503.3 393.6,499.4 385.8,497.5 378,495.5 330,495" fill="none" stroke="#000" stroke-width="1.6"/><polyline points="500.0,433.0 498.0,436.3 496.1,438.2 494.1,439.8 492.2,441.3 490.2,442.6 488.3,443.8 486.3,445.0 484.3,446.1 482.4,447.2 480.4,448.2 478.5,449.2 468.7,453.8 458.9,457.9 449.1,461.7 439.3,465.3 429.5,468.7 419.7,471.9 409.9,475.0 400.1,478.0 390.4,480.9 380.6,483.7 370.8,486.5" fill="none" stroke="#000" stroke-width="1.6" stroke-dasharray="4.4 1.7"/><polyline points="500.0,433.0 502.0,436.3 503.9,438.2 505.9,439.8 507.8,441.3 509.8,442.6 511.7,443.8 513.7,445.0 515.7,446.1 517.6,447.2 519.6,448.2 521.5,449.2 531.3,453.8 541.1,457.9 550.9,461.7 560.7,465.3 570.5,468.7 580.3,471.9 590.1,475.0 599.9,478.0 609.6,480.9 619.4,483.7 629.2,486.5" fill="none" stroke="#000" stroke-width="1.6" stroke-dasharray="4.4 1.7"/></svg>
<div class="fb" style="left:291.5px;top:28px;width:16.5px;height:224px;background:linear-gradient(to bottom,#800000 0%,#b30000 5%,#e50000 10%,#ff1a00 15%,#ff4c00 20%,#ff8000 25%,#ffb300 30%,#ffe500 35%,#e5ff1a 40%,#b3ff4c 45%,#80ff80 50%,#4cffb3 55%,#1affe5 60%,#00e5ff 65%,#00b3ff 70%,#0080ff 75%,#004cff 80%,#001aff 85%,#0000e5 90%,#0000b3 95%,#000080 100%)"></div>
<div class="fb" style="left:635.3px;top:28px;width:16.700000000000045px;height:224px;background:linear-gradient(to bottom,#800000 0%,#b30000 5%,#e50000 10%,#ff1a00 15%,#ff4c00 20%,#ff8000 25%,#ffb300 30%,#ffe500 35%,#e5ff1a 40%,#b3ff4c 45%,#80ff80 50%,#4cffb3 55%,#1affe5 60%,#00e5ff 65%,#00b3ff 70%,#0080ff 75%,#004cff 80%,#001aff 85%,#0000e5 90%,#0000b3 95%,#000080 100%)"></div>
<div class="fb" style="left:291.4px;top:321px;width:16.5px;height:224px;background:linear-gradient(to bottom,#800000 0%,#b30000 5%,#e50000 10%,#ff1a00 15%,#ff4c00 20%,#ff8000 25%,#ffb300 30%,#ffe500 35%,#e5ff1a 40%,#b3ff4c 45%,#80ff80 50%,#4cffb3 55%,#1affe5 60%,#00e5ff 65%,#00b3ff 70%,#0080ff 75%,#004cff 80%,#001aff 85%,#0000e5 90%,#0000b3 95%,#000080 100%)"></div>
<div class="fb" style="left:635.3px;top:321px;width:16.5px;height:224px;background:linear-gradient(to bottom,#800000 0%,#b30000 5%,#e50000 10%,#ff1a00 15%,#ff4c00 20%,#ff8000 25%,#ffb300 30%,#ffe500 35%,#e5ff1a 40%,#b3ff4c 45%,#80ff80 50%,#4cffb3 55%,#1affe5 60%,#00e5ff 65%,#00b3ff 70%,#0080ff 75%,#004cff 80%,#001aff 85%,#0000e5 90%,#0000b3 95%,#000080 100%)"></div>
<canvas id="cv" width="677" height="574"></canvas>
<div class="t" style="left:-47.8px;width:80px;text-align:right;top:26.1px;font-size:9.6px;font-family:'Liberation Sans';">3</div>
<div class="t" style="left:-47.8px;width:80px;text-align:right;top:63.4px;font-size:9.6px;font-family:'Liberation Sans';">2</div>
<div class="t" style="left:-47.8px;width:80px;text-align:right;top:100.8px;font-size:9.6px;font-family:'Liberation Sans';">1</div>
<div class="t" style="left:-47.8px;width:80px;text-align:right;top:138.1px;font-size:9.6px;font-family:'Liberation Sans';">0</div>
<div class="t" style="left:-47.8px;width:80px;text-align:right;top:175.4px;font-size:9.6px;font-family:'Liberation Sans';">-1</div>
<div class="t" style="left:-47.8px;width:80px;text-align:right;top:212.8px;font-size:9.6px;font-family:'Liberation Sans';">-2</div>
<div class="t" style="left:-47.8px;width:80px;text-align:right;top:250.1px;font-size:9.6px;font-family:'Liberation Sans';">-3</div>
<div class="t" style="left:0.7px;width:80px;text-align:center;top:259.2px;font-size:9.6px;font-family:'Liberation Sans';">-1.5</div>
<div class="t" style="left:38.5px;width:80px;text-align:center;top:259.2px;font-size:9.6px;font-family:'Liberation Sans';">-1</div>
<div class="t" style="left:76.6px;width:80px;text-align:center;top:259.2px;font-size:9.6px;font-family:'Liberation Sans';">-0.5</div>
<div class="t" style="left:116.7px;width:80px;text-align:center;top:259.2px;font-size:9.6px;font-family:'Liberation Sans';">0</div>
<div class="t" style="left:155.3px;width:80px;text-align:center;top:259.2px;font-size:9.6px;font-family:'Liberation Sans';">0.5</div>
<div class="t" style="left:193.9px;width:80px;text-align:center;top:259.2px;font-size:9.6px;font-family:'Liberation Sans';">1</div>
<div class="t" style="left:230.9px;width:80px;text-align:center;top:259.2px;font-size:9.6px;font-family:'Liberation Sans';">1.5</div>
<div class="t" style="left:3.3px;top:0.8px;font-size:15px;font-family:'Liberation Serif';">(a)</div>
<div class="t" style="left:149.8px;top:266.8px;font-size:13.6px;">R<span style="font-size:7px;position:relative;top:5px;left:0.3px">*</span></div>
<div class="t" style="left:0.9px;top:148.3px;font-size:13.6px;transform:rotate(-90deg);transform-origin:0 0;">Q<span style="font-size:7px;position:relative;top:4.5px;left:0.3px">*</span></div>
<div class="t" style="left:308.8px;top:25.1px;font-size:10.5px;">10<span style="position:relative;top:-4.2px;margin-left:4.1px"><span style="font-size:6.5px;position:relative;top:-0.55px;margin-left:-0.5px">-</span>2</span></div>
<div class="t" style="left:308.8px;top:54.8px;font-size:10.5px;">10<span style="position:relative;top:-5.3px;margin-left:4.1px"><span style="font-size:6.5px;position:relative;top:-0.55px;margin-left:-0.5px">-</span>3</span></div>
<div class="t" style="left:308.8px;top:86.8px;font-size:10.5px;">10<span style="position:relative;top:-5.3px;margin-left:4.1px"><span style="font-size:6.5px;position:relative;top:-0.55px;margin-left:-0.5px">-</span>4</span></div>
<div class="t" style="left:308.8px;top:118.7px;font-size:10.5px;">10<span style="position:relative;top:-5.3px;margin-left:4.1px"><span style="font-size:6.5px;position:relative;top:-0.55px;margin-left:-0.5px">-</span>5</span></div>
<div class="t" style="left:308.8px;top:150.7px;font-size:10.5px;">10<span style="position:relative;top:-5.3px;margin-left:4.1px"><span style="font-size:6.5px;position:relative;top:-0.55px;margin-left:-0.5px">-</span>6</span></div>
<div class="t" style="left:308.8px;top:182.6px;font-size:10.5px;">10<span style="position:relative;top:-5.3px;margin-left:4.1px"><span style="font-size:6.5px;position:relative;top:-0.55px;margin-left:-0.5px">-</span>7</span></div>
<div class="t" style="left:308.8px;top:214.5px;font-size:10.5px;">10<span style="position:relative;top:-5.3px;margin-left:4.1px"><span style="font-size:6.5px;position:relative;top:-0.55px;margin-left:-0.5px">-</span>8</span></div>
<div class="t" style="left:308.8px;top:246.5px;font-size:10.5px;">10<span style="position:relative;top:-5.3px;margin-left:4.1px"><span style="font-size:6.5px;position:relative;top:-0.55px;margin-left:-0.5px">-</span>9</span></div>
<div class="t" style="left:296.0px;width:80px;text-align:right;top:53.7px;font-size:9.6px;font-family:'Liberation Sans';">2</div>
<div class="t" style="left:296.0px;width:80px;text-align:right;top:96.0px;font-size:9.6px;font-family:'Liberation Sans';">1</div>
<div class="t" style="left:296.0px;width:80px;text-align:right;top:138.2px;font-size:9.6px;font-family:'Liberation Sans';">0</div>
<div class="t" style="left:296.0px;width:80px;text-align:right;top:180.5px;font-size:9.6px;font-family:'Liberation Sans';">-1</div>
<div class="t" style="left:296.0px;width:80px;text-align:right;top:222.8px;font-size:9.6px;font-family:'Liberation Sans';">-2</div>
<div class="t" style="left:363.8px;width:80px;text-align:center;top:259.2px;font-size:9.6px;font-family:'Liberation Sans';">-0.6</div>
<div class="t" style="left:395.4px;width:80px;text-align:center;top:259.2px;font-size:9.6px;font-family:'Liberation Sans';">-0.4</div>
<div class="t" style="left:427.3px;width:80px;text-align:center;top:259.2px;font-size:9.6px;font-family:'Liberation Sans';">-0.2</div>
<div class="t" style="left:460.6px;width:80px;text-align:center;top:259.2px;font-size:9.6px;font-family:'Liberation Sans';">0</div>
<div class="t" style="left:492.2px;width:80px;text-align:center;top:259.2px;font-size:9.6px;font-family:'Liberation Sans';">0.2</div>
<div class="t" style="left:523.8px;width:80px;text-align:center;top:259.2px;font-size:9.6px;font-family:'Liberation Sans';">0.4</div>
<div class="t" style="left:555.7px;width:80px;text-align:center;top:259.2px;font-size:9.6px;font-family:'Liberation Sans';">0.6</div>
<div class="t" style="left:349.3px;top:1.7px;font-size:15px;font-family:'Liberation Serif';">(b)</div>
<div class="t" style="left:493.4px;top:266.7px;font-size:13.6px;">R<span style="font-size:7px;position:relative;top:5px;left:0.3px">*</span></div>
<div class="t" style="left:344.9px;top:148.3px;font-size:13.6px;transform:rotate(-90deg);transform-origin:0 0;">Q<span style="font-size:7px;position:relative;top:4.5px;left:0.3px">*</span></div>
<div class="t" style="left:652.2px;top:25.1px;font-size:10.5px;">10<span style="position:relative;top:-4.2px;margin-left:4.1px"><span style="font-size:6.5px;position:relative;top:-0.55px;margin-left:-0.5px">-</span>2</span></div>
<div class="t" style="left:652.2px;top:54.8px;font-size:10.5px;">10<span style="position:relative;top:-5.3px;margin-left:4.1px"><span style="font-size:6.5px;position:relative;top:-0.55px;margin-left:-0.5px">-</span>3</span></div>
<div class="t" style="left:652.2px;top:86.8px;font-size:10.5px;">10<span style="position:relative;top:-5.3px;margin-left:4.1px"><span style="font-size:6.5px;position:relative;top:-0.55px;margin-left:-0.5px">-</span>4</span></div>
<div class="t" style="left:652.2px;top:118.7px;font-size:10.5px;">10<span style="position:relative;top:-5.3px;margin-left:4.1px"><span style="font-size:6.5px;position:relative;top:-0.55px;margin-left:-0.5px">-</span>5</span></div>
<div class="t" style="left:652.2px;top:150.7px;font-size:10.5px;">10<span style="position:relative;top:-5.3px;margin-left:4.1px"><span style="font-size:6.5px;position:relative;top:-0.55px;margin-left:-0.5px">-</span>6</span></div>
<div class="t" style="left:652.2px;top:182.6px;font-size:10.5px;">10<span style="position:relative;top:-5.3px;margin-left:4.1px"><span style="font-size:6.5px;position:relative;top:-0.55px;margin-left:-0.5px">-</span>7</span></div>
<div class="t" style="left:652.2px;top:214.5px;font-size:10.5px;">10<span style="position:relative;top:-5.3px;margin-left:4.1px"><span style="font-size:6.5px;position:relative;top:-0.55px;margin-left:-0.5px">-</span>8</span></div>
<div class="t" style="left:652.2px;top:246.5px;font-size:10.5px;">10<span style="position:relative;top:-5.3px;margin-left:4.1px"><span style="font-size:6.5px;position:relative;top:-0.55px;margin-left:-0.5px">-</span>9</span></div>
<div class="t" style="left:-46.7px;width:80px;text-align:right;top:340.8px;font-size:9.6px;font-family:'Liberation Sans';">2</div>
<div class="t" style="left:-46.7px;width:80px;text-align:right;top:385.8px;font-size:9.6px;font-family:'Liberation Sans';">1</div>
<div class="t" style="left:-46.7px;width:80px;text-align:right;top:430.8px;font-size:9.6px;font-family:'Liberation Sans';">0</div>
<div class="t" style="left:-46.7px;width:80px;text-align:right;top:475.8px;font-size:9.6px;font-family:'Liberation Sans';">-1</div>
<div class="t" style="left:-46.7px;width:80px;text-align:right;top:520.8px;font-size:9.6px;font-family:'Liberation Sans';">-2</div>
<div class="t" style="left:0.8px;width:80px;text-align:center;top:552.2px;font-size:9.6px;font-family:'Liberation Sans';">-0.5</div>
<div class="t" style="left:117.6px;width:80px;text-align:center;top:552.2px;font-size:9.6px;font-family:'Liberation Sans';">0</div>
<div class="t" style="left:232.9px;width:80px;text-align:center;top:552.2px;font-size:9.6px;font-family:'Liberation Sans';">0.5</div>
<div class="t" style="left:3.3px;top:295.0px;font-size:15px;font-family:'Liberation Serif';">(c)</div>
<div class="t" style="left:150.9px;top:559.7px;font-size:13.6px;">R<span style="font-size:7px;position:relative;top:5px;left:0.3px">*</span></div>
<div class="t" style="left:2.2px;top:441.3px;font-size:13.6px;transform:rotate(-90deg);transform-origin:0 0;">Q<span style="font-size:7px;position:relative;top:4.5px;left:0.3px">*</span></div>
<div class="t" style="left:309.0px;top:318.1px;font-size:10.5px;">10<span style="position:relative;top:-4.2px;margin-left:4.1px"><span style="font-size:6.5px;position:relative;top:-0.55px;margin-left:-0.5px">-</span>2</span></div>
<div class="t" style="left:309.0px;top:347.8px;font-size:10.5px;">10<span style="position:relative;top:-5.3px;margin-left:4.1px"><span style="font-size:6.5px;position:relative;top:-0.55px;margin-left:-0.5px">-</span>3</span></div>
<div class="t" style="left:309.0px;top:379.8px;font-size:10.5px;">10<span style="position:relative;top:-5.3px;margin-left:4.1px"><span style="font-size:6.5px;position:relative;top:-0.55px;margin-left:-0.5px">-</span>4</span></div>
<div class="t" style="left:309.0px;top:411.7px;font-size:10.5px;">10<span style="position:relative;top:-5.3px;margin-left:4.1px"><span style="font-size:6.5px;position:relative;top:-0.55px;margin-left:-0.5px">-</span>5</span></div>
<div class="t" style="left:309.0px;top:443.7px;font-size:10.5px;">10<span style="position:relative;top:-5.3px;margin-left:4.1px"><span style="font-size:6.5px;position:relative;top:-0.55px;margin-left:-0.5px">-</span>6</span></div>
<div class="t" style="left:309.0px;top:475.6px;font-size:10.5px;">10<span style="position:relative;top:-5.3px;margin-left:4.1px"><span style="font-size:6.5px;position:relative;top:-0.55px;margin-left:-0.5px">-</span>7</span></div>
<div class="t" style="left:309.0px;top:507.6px;font-size:10.5px;">10<span style="position:relative;top:-5.3px;margin-left:4.1px"><span style="font-size:6.5px;position:relative;top:-0.55px;margin-left:-0.5px">-</span>8</span></div>
<div class="t" style="left:309.0px;top:539.5px;font-size:10.5px;">10<span style="position:relative;top:-5.3px;margin-left:4.1px"><span style="font-size:6.5px;position:relative;top:-0.55px;margin-left:-0.5px">-</span>9</span></div>
<div class="t" style="left:295.8px;width:80px;text-align:right;top:318.8px;font-size:9.6px;font-family:'Liberation Sans';">3</div>
<div class="t" style="left:295.8px;width:80px;text-align:right;top:356.1px;font-size:9.6px;font-family:'Liberation Sans';">2</div>
<div class="t" style="left:295.8px;width:80px;text-align:right;top:393.5px;font-size:9.6px;font-family:'Liberation Sans';">1</div>
<div class="t" style="left:295.8px;width:80px;text-align:right;top:430.8px;font-size:9.6px;font-family:'Liberation Sans';">0</div>
<div class="t" style="left:295.8px;width:80px;text-align:right;top:468.1px;font-size:9.6px;font-family:'Liberation Sans';">-1</div>
<div class="t" style="left:295.8px;width:80px;text-align:right;top:505.5px;font-size:9.6px;font-family:'Liberation Sans';">-2</div>
<div class="t" style="left:295.8px;width:80px;text-align:right;top:542.8px;font-size:9.6px;font-family:'Liberation Sans';">-3</div>
<div class="t" style="left:341.5px;width:80px;text-align:center;top:552.2px;font-size:9.6px;font-family:'Liberation Sans';">-0.6</div>
<div class="t" style="left:380.7px;width:80px;text-align:center;top:552.2px;font-size:9.6px;font-family:'Liberation Sans';">-0.4</div>
<div class="t" style="left:419.8px;width:80px;text-align:center;top:552.2px;font-size:9.6px;font-family:'Liberation Sans';">-0.2</div>
<div class="t" style="left:460.6px;width:80px;text-align:center;top:552.2px;font-size:9.6px;font-family:'Liberation Sans';">0</div>
<div class="t" style="left:499.2px;width:80px;text-align:center;top:552.2px;font-size:9.6px;font-family:'Liberation Sans';">0.2</div>
<div class="t" style="left:538.3px;width:80px;text-align:center;top:552.2px;font-size:9.6px;font-family:'Liberation Sans';">0.4</div>
<div class="t" style="left:577.2px;width:80px;text-align:center;top:552.2px;font-size:9.6px;font-family:'Liberation Sans';">0.6</div>
<div class="t" style="left:345.2px;top:297.6px;font-size:15px;font-family:'Liberation Serif';">(d)</div>
<div class="t" style="left:493.4px;top:559.7px;font-size:13.6px;">R<span style="font-size:7px;position:relative;top:5px;left:0.3px">*</span></div>
<div class="t" style="left:344.9px;top:441.3px;font-size:13.6px;transform:rotate(-90deg);transform-origin:0 0;">Q<span style="font-size:7px;position:relative;top:4.5px;left:0.3px">*</span></div>
<div class="t" style="left:652.2px;top:318.1px;font-size:10.5px;">10<span style="position:relative;top:-4.2px;margin-left:4.1px"><span style="font-size:6.5px;position:relative;top:-0.55px;margin-left:-0.5px">-</span>2</span></div>
<div class="t" style="left:652.2px;top:347.8px;font-size:10.5px;">10<span style="position:relative;top:-5.3px;margin-left:4.1px"><span style="font-size:6.5px;position:relative;top:-0.55px;margin-left:-0.5px">-</span>3</span></div>
<div class="t" style="left:652.2px;top:379.8px;font-size:10.5px;">10<span style="position:relative;top:-5.3px;margin-left:4.1px"><span style="font-size:6.5px;position:relative;top:-0.55px;margin-left:-0.5px">-</span>4</span></div>
<div class="t" style="left:652.2px;top:411.7px;font-size:10.5px;">10<span style="position:relative;top:-5.3px;margin-left:4.1px"><span style="font-size:6.5px;position:relative;top:-0.55px;margin-left:-0.5px">-</span>5</span></div>
<div class="t" style="left:652.2px;top:443.7px;font-size:10.5px;">10<span style="position:relative;top:-5.3px;margin-left:4.1px"><span style="font-size:6.5px;position:relative;top:-0.55px;margin-left:-0.5px">-</span>6</span></div>
<div class="t" style="left:652.2px;top:475.6px;font-size:10.5px;">10<span style="position:relative;top:-5.3px;margin-left:4.1px"><span style="font-size:6.5px;position:relative;top:-0.55px;margin-left:-0.5px">-</span>7</span></div>
<div class="t" style="left:652.2px;top:507.6px;font-size:10.5px;">10<span style="position:relative;top:-5.3px;margin-left:4.1px"><span style="font-size:6.5px;position:relative;top:-0.55px;margin-left:-0.5px">-</span>8</span></div>
<div class="t" style="left:652.2px;top:539.5px;font-size:10.5px;">10<span style="position:relative;top:-5.3px;margin-left:4.1px"><span style="font-size:6.5px;position:relative;top:-0.55px;margin-left:-0.5px">-</span>9</span></div>
<script>
var PANELS=[{"name":"a","rect":[34,28,280,252],"origin":[157,140],"sx":76.9,"sy":37.33,"peak":[156.6,142,-2.0],"levels":[{"v":-2.3,"p":[[156.7,137.8,158.1,142.4,156.4,146.9,155.1,141.2]],"draw":true},{"v":-3,"p":[[155.9,124.3,159.8,124.8,163.2,127.7,165.5,134.4,166.6,142.4,166.6,150.3,167.2,156,171.3,163.0,161,160.5,155.3,159.4,148,157.1,146.8,150.3,146.3,144.6,145.7,139,146.3,133.3,148.5,127.7]],"draw":true},{"v":-4,"p":[[124.8,127.6,127.8,117.8,133.6,110,143.4,106.1,157,104.8,164.8,107.1,170.7,111,176.5,117.8,180.4,125.7,182.4,133.5,184.3,140.1,186.3,149.8,187.3,161.5,188.3,169.3,193.7,183.1,184.3,181,176.5,180,166.8,179.1,157,177.1,151.2,176.1,143.4,173.2,133.6,169.3,131.7,159.5,129.7,147.8,125.8,140]],"draw":true},{"v":-5,"p":[[89.7,131.5,89.7,121.8,88.7,113.9,89.7,108.1,92.6,105.1,96.5,100.3,101.4,95.4,103.3,90.5,106.3,85.6,116,82.7,125.8,81.7,139.5,80.3,157,79.8,164.8,80.7,172.6,80.7,182.4,79.8,186.3,82.7,192.2,86.6,196.1,92.5,201.9,96.4,205.8,102.2,208.8,106.1,211.7,112,214.6,117.8,215.6,123.7,217.5,129.6,219.5,135.4,217.5,140.1,215.6,145.9,216.6,151.7,217.5,159.5,218.5,169.3,219.5,179.1,218.5,188.8,219.5,196.6,223.4,202.5,232.8,209.9,217.5,208.4,207.8,207.4,196.1,206.4,184.3,204.5,172.6,202.5,164.8,200.5,157,199.6,147.3,198.6,135.6,196.6,125.8,194.7,116,192.7,110.2,190.8,109.2,183,109.2,175.2,106.3,167.3,103.3,161.5,101.4,157.6,98.5,151.7,91.6,147.8,90.6,140]],"draw":true},{"v":-6,"p":[[30,100,36,85.6,53.5,69,53.5,55.3,59.4,53.4,73,49.5,82.8,47.5,96.5,42.6,112,39.7,120,44.6,125.8,39.7,135.6,39.7,143.4,44.6,157,42.6,166.8,40.7,168.7,45.6,176.5,43.6,184.3,44.6,188.3,47.5,192.2,46.6,196.1,49.5,201.9,46.6,207.8,45.6,213.6,47.5,215.6,51.4,223.4,52.4,227.3,53.4,225.4,57.3,228.3,61.2,229.3,65.1,233.2,67.1,235.1,71,239,74.9,242.9,76.8,246.8,80.7,250.8,82.7,252.7,86.6,254.7,90.5,256.6,94.4,262.5,98.3,266.4,102.2,268.3,106.1,270.3,110,270.3,115.9,272.2,121.8,270.3,127.6,268.3,133.5,268.3,140,266.4,149.8,262.5,157.6,263.4,165.4,265.4,173.2,266.4,179.1,267.4,186.9,266.4,192.7,268.3,198.6,270.3,206.4,272.2,214.2,274.2,222,278.1,225.9,285,228,285,242,280,242.5,270.3,241.6,262.5,240.6,254.7,239.6,246.8,238.6,239,237.7,231.2,235.7,221.5,233.8,211.7,232.8,203.9,231.8,196.1,229.8,188.3,228.9,180.4,226.9,172.6,227.9,164.8,225,157,224,147.3,225,139.5,225.9,131.7,228.9,127.8,229.8,123.8,224,118,219.1,110.2,218.1,100.4,217.1,90.6,215.2,80.9,215.2,77,213.2,78.9,207.4,79.9,202.5,77,198.6,73.1,194.7,70.1,188.8,66.2,184.9,61.3,179.1,58.4,173.2,57.4,165.4,53.5,161.5,45.7,159.5,39.9,149.8,34,144.9,30,140]],"draw":true},{"v":-7,"p":[[24,21,255,21,258.6,28,260.5,35.8,266.4,39.7,270.3,45.6,276.1,47.5,290,49.5,290,254,150,254,112.1,252,108.2,246.4,96.5,245.5,88.7,246.4,80.9,244.5,73.1,245.5,65.3,244.5,57.4,241.6,49.6,239.6,41.8,243.5,34,248.4,24,250]],"draw":true}],"g":0.045,"gs":9,"extra":[],"noise":[[-4.5,0.03],[-5.3,0.1],[-5.8,0.26],[-6.3,0.3],[-7,0.3],[-8,0.3]],"seed":1},{"name":"b","rect":[378,28.5,623,252],"origin":[500.5,140.25],"sx":159.5,"sy":42.3,"peak":[500,141.7,-2.75],"levels":[{"v":-3,"p":[[500,137.2,502.8,141.7,500,146.2,497.2,141.7]],"draw":true},{"v":-4,"p":[[497.2,126.8,504,127.6,508.5,131,510.8,136,512.5,142.8,514.2,149.6,516.4,155.3,522.2,161.4,513,158.7,504,156.4,497.2,154.7,491.5,152.5,488.7,147.4,487,141.7,486.4,136,488.1,131,492.6,127.6]],"draw":true},{"v":-5,"p":[[458.1,140.1,457.1,133.5,458.1,127.6,459.1,121.8,462,117.8,467.8,113.9,475.7,111,483.5,109.1,491.3,108.1,500,108.5,507.8,110,515.6,113,521.5,117.8,525.4,123.7,528.3,129.6,530.3,135.4,531.3,140.1,535.2,147.8,539.1,155.6,543,163.4,546.9,171.3,552.7,177.1,559.2,181.3,548.8,180,539.1,179.1,529.3,177.5,519.5,176.1,509.8,174.2,500,171.3,495.2,169.3,487.4,167.3,479.6,166.4,473.7,164.4,472.7,159.5,469.8,153.7,465.9,145.9,461,140]],"draw":true},{"v":-6,"p":[[401.4,140.1,400.5,137.4,397.5,133.5,394.6,129.6,391.7,123.7,389.7,117.8,390.7,112,393.6,108.1,396.6,105.1,393.6,102.2,392.6,98.3,394.6,94.4,397.5,90.5,403.4,89.5,409.3,88.5,414.1,86.6,417.1,82.7,422.9,80.3,428.8,78.8,436.6,76.8,444.4,75.9,452.2,74.9,460,74.5,467.8,75.9,475.7,74.5,479.6,76.8,487.4,75.9,495.2,74.5,500,76,505.9,78.4,511.7,79.8,519.5,80.7,527.3,81.1,532.2,83.7,536.1,86.6,541,88.5,546.9,90.5,552.7,93.4,557.6,95.4,559.6,99.3,562.5,103.2,566.4,106.1,569.3,109.1,570.3,113.9,572.3,117.8,574.2,121.8,577.1,125.7,578.1,129.6,579.1,134.4,579.1,140,580.1,143.9,584,149.8,584,155.6,585.9,161.5,587.9,167.3,591.8,173.2,595.7,177.1,601.6,181,605.5,183,603.5,185.9,607.4,188.8,613.3,192.7,617.2,196.6,621.1,200.5,623,202.5,628,208,623,213.8,617.2,213.8,607.4,212.3,597.7,211.3,587.9,210.3,578.1,209.3,568.4,208.4,558.6,206.4,548.8,205.4,539.1,203.5,529.3,202.5,519.5,201.5,509.8,199.6,500,197.6,491.3,196.6,483.5,195.7,475.7,193.7,467.8,191.8,460,189.8,452.2,187.9,446.4,186.9,440.5,184.9,438.5,182,435.6,179.1,433.7,176.1,430.7,173.2,429.8,169.3,426.8,166.4,424.9,163.4,421,159.5,417.1,155.6,413.2,151.7,409.3,147.8,407.3,143.9,402.4,140]],"draw":true},{"v":-7,"p":[[370,20,522,20,525.4,28,527.3,31.9,533.2,30.9,539.1,30,546.9,30,552.7,31.9,558.6,33.9,564.5,36.8,570.3,35.8,578.1,31.9,582,33.9,585.9,38.7,593.8,39.7,601.6,39.7,605.5,42.6,611.3,41.7,617.2,43.6,623,43.6,635,44,635,245.5,623,245.5,613.3,246.4,605.5,247.4,597.7,243.5,589.8,245.5,582,243.5,574.2,241.6,566.4,240.6,558.6,243.5,550.8,242.5,544.9,245.5,539.1,243.5,535.2,237.7,527.3,241.6,519.5,239.6,511.7,238.6,505.9,235.7,500,233.8,497.1,236.7,491.3,233.8,485.4,230.8,479.6,231.8,473.7,229.8,467.8,228.9,462,225.9,456.1,227.9,452.2,229.8,450.3,225.9,444.4,224,438.5,221.1,432.7,219.1,426.8,221.1,421,220.1,413.2,219.1,407.3,218.1,401.4,215.2,395.6,212.3,389.7,214.2,383.9,213.2,378,215.2,370,215]],"draw":true}],"g":0.05,"gs":8,"extra":[],"noise":[[-4.5,0.03],[-6,0.07],[-6.5,0.15],[-7,0.2],[-8,0.2]],"seed":2},{"name":"c","rect":[35.3,321,280,545],"origin":[157.6,433],"sx":231,"sy":45,"peak":[157.3,434.2,-2.75],"levels":[{"v":-3,"p":[[157.3,430.3,159.8,432.5,159.8,436,157.3,438,155,436,154.8,432.5]],"draw":true},{"v":-4,"p":[[154,423.7,159.7,424.7,163.6,427.1,165.5,431.8,167.4,436.6,169.3,441.4,172.2,445.3,178.1,449.9,170.3,446.7,163.6,444.8,156.8,442.9,151.1,441.4,149.2,437.6,147.7,433.8,147.3,429,149.2,425.1]],"draw":true},{"v":-5,"p":[[125.8,433.1,123.9,426.5,123.9,420.6,126.8,414.8,132.7,411.8,140.5,410.5,148.3,409.9,158,409.9,162.9,412.8,168.7,416.7,173.6,422.6,176.5,428.4,178.5,433.1,182.4,438.9,188.3,444.7,194.1,450.6,200,456.4,205.8,461.3,215.2,466.7,205.8,465.2,196.1,463.3,186.3,461.3,176.5,459.4,166.8,457.4,157,454.5,152.2,452.5,146.3,450.6,140.5,447.6,138.5,444.7,134.6,438.9,128.8,433]],"draw":true},{"v":-6,"p":[[81.9,433.1,80.9,430.4,78,426.5,74.1,422.6,71.1,418.7,69.2,412.8,68.2,406.9,70.2,401.1,74.1,397.2,78,393.3,81.9,389.4,87.7,387.4,93.6,385.5,101.4,384.5,109.2,383.9,117,383.1,122.9,383.5,130.7,382.5,136.6,381.5,144.4,383.1,150.2,383.5,158,385.5,162.9,387,168.7,387,176.5,389.4,184.3,392.3,190.2,395.2,196.1,398.1,198,401.1,201.9,405,203.9,409.9,205.8,412.8,207.8,416.7,209.7,422.6,211.7,426.5,212.7,433.1,215.6,438.9,221.5,446.7,227.3,452.5,233.2,458.4,239,463.3,246.8,468.2,254.7,472.1,262.5,476,270.3,479.9,276.1,483.8,280,485.7,285,490,280,494.5,274.2,495.1,264.4,492.6,254.7,492.6,244.9,491.6,235.1,490.6,225.4,488.7,215.6,486.7,205.8,484.8,196.1,482.8,186.3,480.9,176.5,478.9,166.8,476.9,157,473,152.2,472.1,144.4,470.1,136.6,468.2,128.8,465.2,120.9,462.3,115.1,459.4,113.1,455.5,107.3,450.6,101.4,444.7,95.5,440.8,89.7,436.9,83.8,433]],"draw":true},{"v":-7,"p":[[15,331,35,330.8,40.9,329.8,46.7,331.7,54.5,329.8,60.4,331.7,66.3,326.9,72.1,324.9,76,328.8,81.9,332.7,87.7,330.8,93.6,328.8,99.5,330.8,105.3,331.7,111.2,330.8,117,331.7,122.9,329.8,128.8,328.8,134.6,331.7,140.5,332.7,146.3,336.6,152.2,338.6,158,337.6,164.8,336.6,170.7,340.5,176.5,340.5,182.4,339.6,188.3,342.5,194.1,343.5,200,341.5,205.8,343.5,211.7,345.4,217.5,347.4,223.4,349.3,229.3,352.3,235.1,355.2,241,358.1,246.8,361,252.7,362,258.6,363,266.4,363,270.3,364,268.3,367.9,265.4,371.8,266.4,377.6,268.3,383.5,272.2,385.5,276.1,381.5,280,379.6,287,380,287,529,280,528.7,270.3,525.8,262.5,523.8,254.7,522.8,246.8,521.9,239,520.9,231.2,519.9,223.4,519,215.6,517,207.8,514.1,200,513.1,192.2,513.1,184.3,511.1,176.5,509.2,170.7,505.3,164.8,506.2,157,507.2,152.2,505.3,146.3,504.3,140.5,505.3,134.6,504.3,128.8,502.3,120.9,500.4,113.1,498.4,107.3,496.5,101.4,494.5,93.6,492.6,85.8,490.6,79.9,487.7,72.1,485.7,64.3,484.8,56.5,483.8,60.4,479.9,62.3,475,56.5,474,50.6,471.1,46.7,466.2,40.9,463.3,35,461.3,15,461]],"draw":true},{"v":-8,"p":[[0,300,290,300,290,552,175,547,158,542.4,144.4,542.4,136.6,540.4,128.8,539.4,120.9,538.5,113.1,538.5,105.3,534.6,97.5,536.5,89.7,534.6,81.9,532.6,74.1,530.7,66.3,528.7,58.4,526.8,50.6,523.8,42.8,524.8,35,528.7,0,529]],"draw":true}],"g":0.04,"gs":8,"extra":[],"noise":[[-4.5,0.03],[-6,0.07],[-6.5,0.15],[-7,0.2],[-7.7,0.28],[-8.5,0.3]],"seed":3},{"name":"d","rect":[378,321,623,545],"origin":[500,433],"sx":195.8,"sy":37.33,"peak":[500.2,433.6,-2.8],"levels":[{"v":-3,"p":[[500.2,431.4,502,433.6,500.2,435.8,498.4,433.6]],"draw":true},{"v":-4,"p":[[497.8,425.4,502.6,426.4,505.5,429.7,506.4,433.6,507.9,437.4,510.3,440.7,517.5,446.5,508.4,442.2,502.6,440.7,496.8,439.3,494,436.4,492.5,432.6,492.5,428.8,494.4,426.4]],"draw":true},{"v":-5,"p":[[474.8,419.2,479.6,414.9,489.2,414.4,498.8,414.9,505.5,417.3,511.2,421.1,515.1,426.8,517,432.6,519.9,438.4,523.7,443.1,527.5,447.9,533.2,450.6,539.1,455.5,548.4,460.8,539.1,458.4,529.3,456.4,519.5,454.5,509.8,452.5,500,449.6,494,447,486.8,444.6,485.3,442.2,482.5,437.4,478.6,432.6,474.8,427.8,473.4,423]],"draw":true},{"v":-6,"p":[[444.4,433.1,440.5,427.4,434.6,422.6,429.8,418.7,428.8,412.8,430.7,406.9,432.7,402.1,436.6,398.1,442.5,395.2,448.3,393.3,456.1,392.3,462,393.3,467.8,394.2,473.7,390.3,479.6,390.3,487.4,392.3,495.2,393.3,500,395.2,509.8,397.2,517.6,399.1,523.4,403,529.3,405,534.2,410.8,538.1,416.7,541,422.6,543.9,428.4,544.9,433.1,545.9,438.9,550.8,444.7,556.6,450.6,562.5,455.5,570.3,460.3,578.1,465.2,585.9,470.1,593.8,474,601.6,477,609.4,479.9,619.1,483.8,607.4,483.8,597.7,484.2,587.9,482.8,578.1,480.9,568.4,478.9,558.6,477,548.8,475,539.1,473,529.3,471.1,519.5,469.1,509.8,467.2,500,464.3,495.2,463.3,489.3,461.3,481.5,458.4,473.7,455.5,467.8,452.5,462,446.7,456.1,440.8,450.3,436.9]],"draw":true},{"v":-7,"p":[[348,361,378,361,383.9,360.1,389.7,361,395.6,359.1,399.5,357.1,402.4,350.3,403.4,345.4,409.3,345.4,415.1,347.4,419,350.3,422.9,356.2,428.8,357.1,434.6,356.2,440.5,354.2,446.4,355.2,452.2,356.2,458.1,355.2,463.9,353.2,469.8,351.3,473.7,347.4,477.6,348.3,479.6,354.2,484.4,356.2,489.3,358.1,495.2,355.2,500,355.2,507.8,357.1,515.6,359.1,523.4,360.1,529.3,364,531.3,360.1,537.1,359.1,541,362,548.8,363,556.6,364.9,562.5,365.9,568.4,367.9,574.2,370.8,578.1,373.7,578.1,379.6,579.1,385.5,577.1,393.3,580.1,398.1,585.9,401.1,589.8,405,591.8,409.9,597.7,410.8,603.5,411.8,606.4,416.7,603.5,422.6,599.6,426.5,597.7,433.1,599.6,435.9,605.5,436.9,609.4,438.9,613.3,440.8,611.3,444.7,603.5,444.7,601.6,448.6,602.5,454.5,606.4,457.4,611.3,458.4,617.2,460.3,623,461.3,630,462,630,510,623,510.1,613.3,511.1,605.5,510.1,597.7,511.1,591.8,512.1,587.9,510.1,578.1,507.2,568.4,505.3,558.6,503.3,548.8,501.4,539.1,499.4,531.3,497.5,523.4,493.5,515.6,490.6,507.8,487.7,500,485.7,491.3,484.8,483.5,484.2,475.7,483.8,469.8,482.8,463.9,483.8,460,480.9,452.2,478.9,444.4,477.9,436.6,476.9,428.8,476,421,475,414.1,473,417.1,470.1,422.9,465.2,424.9,460.3,422.9,458.4,417.1,457.4,411.2,455.5,405.3,452.5,399.5,448.6,393.6,444.7,389.7,440.8,383.9,437.9,378,436.9,348,437]],"draw":true},{"v":-8,"p":[[330,292,583,292,585,321,600,325,615,330,623,332,635,333,635,543,623,542.4,617.2,542.4,607.4,541.4,597.7,540.4,587.9,541.4,578.1,540.4,568.4,539.4,558.6,538.5,548.8,536.5,539.1,534.6,529.3,532.6,519.5,530.7,509.8,528.7,500,524.5,495.2,521.9,487.4,520.9,479.6,519,471.7,517,463.9,515,456.1,517,448.3,515,440.5,513.1,432.7,511.1,424.9,510.1,417.1,508.2,409.3,509.2,403.4,507.2,397.5,503.3,393.6,499.4,385.8,497.5,378,495.5,330,495]],"draw":true}],"g":0.04,"gs":8,"extra":[],"noise":[[-4.5,0.03],[-6,0.09],[-6.5,0.16],[-7,0.2],[-7.7,0.28],[-8.5,0.3]],"seed":4}];
var CBS=[[291.5, 28, 308, 252], [635.3, 28, 652, 252], [291.4, 321, 307.9, 545], [635.3, 321, 651.8, 545]];
function clamp(x){return x<0?0:(x>1?1:x);}
function jet(t){t=clamp(t);return [clamp(1.5-Math.abs(4*t-3)),clamp(1.5-Math.abs(4*t-2)),clamp(1.5-Math.abs(4*t-1))];}
function pip(px,py,P){var ins=false,n=P.length/2;for(var i=0,j=n-1;i<n;j=i++){var xi=P[2*i],yi=P[2*i+1],xj=P[2*j],yj=P[2*j+1];if(((yi>py)!=(yj>py))&&(px<(xj-xi)*(py-yi)/(yj-yi)+xi))ins=!ins;}return ins;}
function pd(px,py,P){var b=1e18,n=P.length/2;for(var i=0,j=n-1;i<n;j=i++){var ax=P[2*j],ay=P[2*j+1],dx=P[2*i]-ax,dy=P[2*i+1]-ay,l=dx*dx+dy*dy,t=l>0?((px-ax)*dx+(py-ay)*dy)/l:0;t=t<0?0:(t>1?1:t);var ex=ax+t*dx-px,ey=ay+t*dy-py,d=ex*ex+ey*ey;if(d<b)b=d;}return Math.sqrt(b);}
function inL(px,py,L){for(var k=0;k<L.p.length;k++)if(pip(px,py,L.p[k]))return true;return false;}
function dL(px,py,L){var b=1e9;for(var k=0;k<L.p.length;k++){var d=pd(px,py,L.p[k]);if(d<b)b=d;}return b;}
function hash(ix,iy,s){var h=(ix*374761393+iy*668265263+s*982451653)|0;h=(h^(h>>>13))*1274126177|0;h=h^(h>>>16);return (h&0xffff)/65535;}
function vnoise(x,y,s){var ix=Math.floor(x),iy=Math.floor(y),fx=x-ix,fy=y-iy;fx=fx*fx*(3-2*fx);fy=fy*fy*(3-2*fy);
 var a=hash(ix,iy,s),b=hash(ix+1,iy,s),c=hash(ix,iy+1,s),d=hash(ix+1,iy+1,s);return (a+(b-a)*fx+(c-a)*fy+(a-b-c+d)*fx*fy)*2-1;}
function namp(v,N){if(v>=N[0][0])return N[0][1];for(var i=1;i<N.length;i++){if(v>=N[i][0]){var t=(N[i-1][0]-v)/(N[i-1][0]-N[i][0]);return N[i-1][1]+(N[i][1]-N[i-1][1])*t;}}return N[N.length-1][1];}
function field(px,py,S){
 var L=S.levels,k=-1;
 for(var i=0;i<L.length;i++){if(inL(px,py,L[i])){k=i;break;}}
 if(k===0){var di=Math.hypot(px-S.peak[0],py-S.peak[1]),dO=dL(px,py,L[0]);return L[0].v+(S.peak[2]-L[0].v)*dO/(di+dO+1e-9);}
 if(k>0){var di=dL(px,py,L[k-1]),dO=dL(px,py,L[k]);return L[k].v+(L[k-1].v-L[k].v)*dO/(di+dO+1e-9);}
 var d=dL(px,py,L[L.length-1]);return L[L.length-1].v-S.g*S.gs*(1-Math.exp(-d/S.gs));
}
var cv=document.getElementById('cv'),ctx=cv.getContext('2d');
function drawPanel(S){
 var r=S.rect,x0=Math.floor(r[0]),y0=Math.floor(r[1]),x1=Math.ceil(r[2]),y1=Math.ceil(r[3]),w=x1-x0,h=y1-y0;
 var img=ctx.createImageData(w,h),D=img.data,F=new Float32Array(w*h);
 for(var y=0;y<h;y++)for(var x=0;x<w;x++){
  var px=x0+x+0.5,py=y0+y+0.5;var v=field(px,py,S);
  var amp=namp(v,S.noise);
  v+=amp*(0.55*vnoise(px/6,py/4.5,S.seed)+0.3*vnoise(px/2.6,py/2.2,S.seed+7)+0.15*vnoise(px/1.3,py/1.3,S.seed+13));
  F[y*w+x]=v;
  var c=jet((v+9)/7),o=4*(y*w+x);D[o]=Math.round(c[0]*255);D[o+1]=Math.round(c[1]*255);D[o+2]=Math.round(c[2]*255);D[o+3]=255;}
 ctx.putImageData(img,x0,y0);
 ctx.fillStyle='rgba(160,130,125,0.8)';ctx.fillRect(x0,y0,w,1);
 ctx.save();ctx.beginPath();ctx.rect(r[0],r[1],r[2]-r[0],r[3]-r[1]);ctx.clip();
 ctx.strokeStyle='#000';ctx.lineWidth=S.lw||1.75;ctx.lineCap='round';
 S.levels.forEach(function(L){if(!L.draw)return;var lv=L.v;ctx.beginPath();
  for(var y=0;y<h-1;y++)for(var x=0;x<w-1;x++){
   var a=F[y*w+x]-lv,b=F[y*w+x+1]-lv,c=F[(y+1)*w+x+1]-lv,d=F[(y+1)*w+x]-lv;
   var idx=(a>0?8:0)|(b>0?4:0)|(c>0?2:0)|(d>0?1:0);if(idx===0||idx===15)continue;
   var X=x0+x+0.5,Y=y0+y+0.5;
   var T=[X+a/(a-b),Y],Rr=[X+1,Y+b/(b-c)],B=[X+d/(d-c),Y+1],Lf=[X,Y+a/(a-d)];
   var segs;
   switch(idx){case 1:case 14:segs=[[Lf,B]];break;case 2:case 13:segs=[[B,Rr]];break;case 3:case 12:segs=[[Lf,Rr]];break;
    case 4:case 11:segs=[[T,Rr]];break;case 6:case 9:segs=[[T,B]];break;case 7:case 8:segs=[[Lf,T]];break;
    case 5:segs=[[Lf,T],[B,Rr]];break;case 10:segs=[[T,Rr],[Lf,B]];break;}
   for(var k=0;k<segs.length;k++){ctx.moveTo(segs[k][0][0],segs[k][0][1]);ctx.lineTo(segs[k][1][0],segs[k][1][1]);}
  }
  ctx.stroke();});
 // dashed Vieillefosse lines
 ctx.setLineDash([4.4,1.7]);ctx.lineWidth=1.75;ctx.lineCap='butt';
 [-1,1].forEach(function(sg){ctx.beginPath();var first=true;for(var R=0;R<=3;R+=0.002){var x=S.origin[0]+sg*R*S.sx,y=S.origin[1]+1.8899*Math.pow(R,2/3)*S.sy;if(first){ctx.moveTo(x,y);first=false;}else ctx.lineTo(x,y);if(x<r[0]-5||x>r[2]+5||y>r[3]+5)break;}ctx.stroke();});
 ctx.restore();
}
PANELS.forEach(drawPanel);
CBS.forEach(function(c){var h=c[3]-c[1];for(var y=0;y<Math.ceil(h);y++){var t=1-(y+0.5)/h;var col=jet(t);ctx.fillStyle='rgb('+Math.round(col[0]*255)+','+Math.round(col[1]*255)+','+Math.round(col[2]*255)+')';ctx.fillRect(c[0],c[1]+y,c[2]-c[0],1);}
 ctx.fillStyle='#222';for(var i=1;i<7;i++){ctx.fillRect(c[2]-2,c[1]+i*32-0.5,2,1);ctx.fillRect(c[0],c[1]+i*32-0.5,2,1);}});
</script>
</body></html>
